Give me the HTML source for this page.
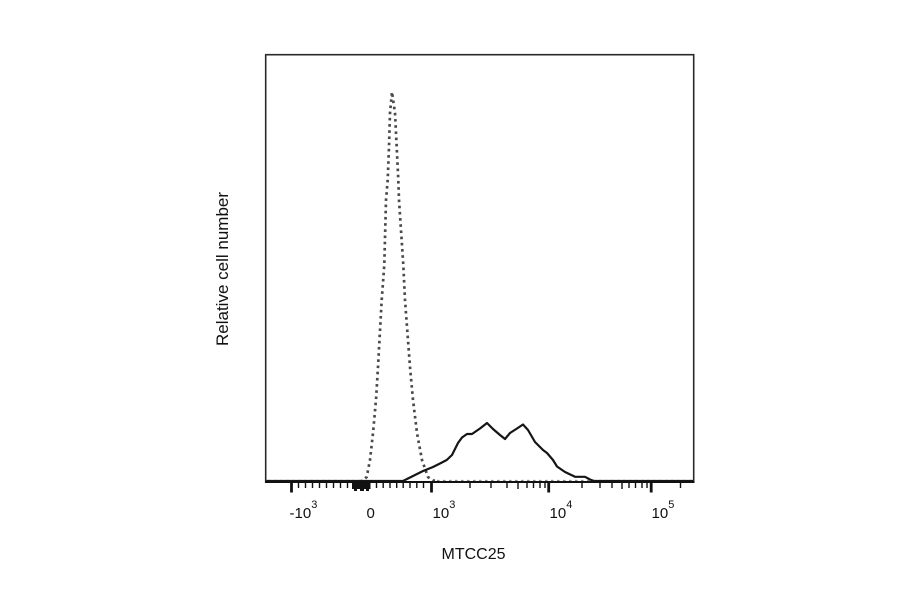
<!DOCTYPE html>
<html>
<head>
<meta charset="utf-8">
<style>
  html, body { margin:0; padding:0; background:#ffffff; }
  body { width:900px; height:594px; overflow:hidden; }
  svg { display:block; }
  text { font-family: "Liberation Sans", Arial, sans-serif; fill:#111; }
</style>
</head>
<body>
<svg width="900" height="594" viewBox="0 0 900 594" xmlns="http://www.w3.org/2000/svg">
  <rect x="0" y="0" width="900" height="594" fill="#ffffff"/>

  <!-- dotted baseline of control series -->
  <path d="M 268 480.5 L 360 480.5 M 437 480.5 L 692 480.5" fill="none" stroke="#8a8a8a" stroke-width="1.2" stroke-dasharray="2.5 3.5"/>

  <!-- dotted control histogram -->
  <path d="M 360 481.5 L 363 480.5 L 366.7 477 L 370 460 L 373 433 L 376 400 L 378 367 L 381.7 300 L 384.3 265 L 386 200 L 387.7 180 L 389 147 L 390 113 L 392 92 L 395 113 L 396.7 147 L 398.3 180 L 399 200 L 403.3 265 L 405 300 L 410 367 L 413 400 L 417 433 L 422 460 L 428 477 L 433 480.5 L 437 481"
        fill="none" stroke="#4a4a4a" stroke-width="2.7" stroke-dasharray="2.6 3.6"/>

  <!-- solid sample histogram -->
  <path d="M 266 481 L 403 481 L 410 477.5 L 423 471 L 433 467 L 440 463.5 L 446.7 460 L 452 455 L 458 443 L 462 437.5 L 467 434 L 472 434 L 480 428.5 L 487 423 L 493 429 L 500 435 L 505 439 L 510 433 L 517 428.5 L 523 424.5 L 528 430 L 535 442 L 543 450 L 547 453 L 553 460 L 557 466.5 L 565 472 L 575 476.8 L 585 476.8 L 590 479.5 L 594 481 L 693 481"
        fill="none" stroke="#151515" stroke-width="2.2" stroke-linejoin="round"/>

  <!-- frame -->
  <rect x="265.7" y="54.7" width="428" height="427.3" fill="none" stroke="#2a2a2a" stroke-width="1.6"/>
  <!-- bottom axis line -->
  <line x1="265" y1="482" x2="694.5" y2="482" stroke="#111" stroke-width="2"/>

  <!-- minor ticks -->
  <g stroke="#111" stroke-width="1.4">
    <line x1="298.5" y1="482" x2="298.5" y2="488"/>
    <line x1="305.5" y1="482" x2="305.5" y2="488"/>
    <line x1="312.5" y1="482" x2="312.5" y2="488"/>
    <line x1="319.5" y1="482" x2="319.5" y2="488"/>
    <line x1="326.5" y1="482" x2="326.5" y2="488"/>
    <line x1="333.5" y1="482" x2="333.5" y2="488"/>
    <line x1="340.5" y1="482" x2="340.5" y2="488"/>
    <line x1="347.5" y1="482" x2="347.5" y2="488"/>

    <line x1="376.5" y1="482" x2="376.5" y2="488"/>
    <line x1="383.2" y1="482" x2="383.2" y2="488"/>
    <line x1="390" y1="482" x2="390" y2="488"/>
    <line x1="396.7" y1="482" x2="396.7" y2="488"/>
    <line x1="403.2" y1="482" x2="403.2" y2="488"/>
    <line x1="410" y1="482" x2="410" y2="488"/>
    <line x1="416.8" y1="482" x2="416.8" y2="488"/>
    <line x1="423.5" y1="482" x2="423.5" y2="488"/>

    <line x1="470" y1="482" x2="470" y2="488"/>
    <line x1="491" y1="482" x2="491" y2="488"/>
    <line x1="507" y1="482" x2="507" y2="488"/>
    <line x1="518" y1="482" x2="518" y2="489"/>
    <line x1="527" y1="482" x2="527" y2="488"/>
    <line x1="533.5" y1="482" x2="533.5" y2="488"/>
    <line x1="540" y1="482" x2="540" y2="488"/>
    <line x1="545" y1="482" x2="545" y2="488"/>

    <line x1="582" y1="482" x2="582" y2="488"/>
    <line x1="600" y1="482" x2="600" y2="488"/>
    <line x1="612" y1="482" x2="612" y2="488"/>
    <line x1="622" y1="482" x2="622" y2="489"/>
    <line x1="629" y1="482" x2="629" y2="488"/>
    <line x1="635.5" y1="482" x2="635.5" y2="488"/>
    <line x1="642" y1="482" x2="642" y2="488"/>
    <line x1="647" y1="482" x2="647" y2="488"/>

    <line x1="680.5" y1="482" x2="680.5" y2="488"/>
  </g>

  <!-- dense block near zero -->
  <rect x="352" y="482" width="18.5" height="7" fill="#111"/>
  <rect x="354" y="482" width="3" height="9" fill="#111"/>
  <rect x="360" y="482" width="4" height="9" fill="#111"/>
  <rect x="366" y="482" width="3" height="9" fill="#111"/>

  <!-- major ticks -->
  <g stroke="#111" stroke-width="2.8">
    <line x1="291.5" y1="482" x2="291.5" y2="492.5"/>
    <line x1="431.5" y1="482" x2="431.5" y2="492.5"/>
    <line x1="548.7" y1="482" x2="548.7" y2="492.5"/>
    <line x1="651.2" y1="482" x2="651.2" y2="492.5"/>
  </g>

  <!-- tick labels -->
  <g font-size="15">
    <text x="289.5" y="518">-10<tspan dy="-10" font-size="11">3</tspan></text>
    <text x="366.5" y="518">0</text>
    <text x="432.5" y="518">10<tspan dy="-10" font-size="11">3</tspan></text>
    <text x="549.5" y="518">10<tspan dy="-10" font-size="11">4</tspan></text>
    <text x="651.5" y="518">10<tspan dy="-10" font-size="11">5</tspan></text>
  </g>

  <!-- axis titles -->
  <text x="473.5" y="559" font-size="16" text-anchor="middle">MTCC25</text>
  <text transform="translate(228,269) rotate(-90)" x="0" y="0" font-size="17" text-anchor="middle">Relative cell number</text>
</svg>
</body>
</html>
